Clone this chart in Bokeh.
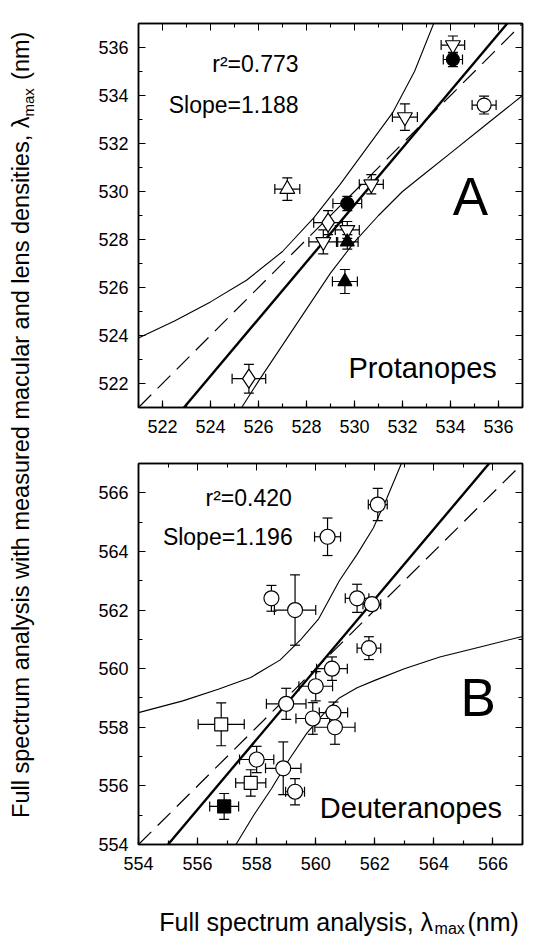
import numpy as np
from bokeh.plotting import figure
from bokeh.models import (ColumnDataSource, Whisker, TeeHead, Label, Range1d,
                          LinearAxis, SingleIntervalTicker, Slope)
from bokeh.layouts import row, column
from bokeh.embed import file_html
from bokeh.resources import INLINE

FONT = "Liberation Sans"

# ---------------- Panel A (Protanopes) data ----------------
a_tri_up_x = [527.2]
a_tri_up_y = [530.1]
a_tri_up_xerr = [0.52]
a_tri_up_yerr = [0.47]

a_tri_dn_x = [534.1, 532.1, 530.7, 529.7, 528.7]
a_tri_dn_y = [536.1, 533.1, 530.3, 528.4, 527.9]
a_tri_dn_xerr = [0.49, 0.52, 0.50, 0.50, 0.60]
a_tri_dn_yerr = [0.38, 0.55, 0.40, 0.35, 0.50]

a_dia_x = [528.9, 525.6]
a_dia_y = [528.7, 522.2]
a_dia_xerr = [0.60, 0.70]
a_dia_yerr = [0.50, 0.60]

a_fcirc_x = [534.1, 529.7]
a_fcirc_y = [535.5, 529.5]
a_fcirc_xerr = [0.40, 0.60]
a_fcirc_yerr = [0.30, 0.30]

a_ftri_x = [529.7, 529.6]
a_ftri_y = [527.9, 526.25]
a_ftri_xerr = [0.45, 0.52]
a_ftri_yerr = [0.30, 0.50]

a_ocirc_x = [535.4]
a_ocirc_y = [533.6]
a_ocirc_xerr = [0.50]
a_ocirc_yerr = [0.37]

a_slope = 1.188
a_intercept = -100.2
a_r2 = "0.773"

a_up_x = [521.0, 522.5, 524.0, 525.5, 527.0, 528.3, 529.4, 530.5, 531.6, 532.5, 533.3]
a_up_y = [523.9, 524.6, 525.4, 526.3, 527.5, 528.9, 530.3, 531.8, 533.3, 535.0, 537.0]
a_lo_x = [525.3, 526.0, 527.0, 528.0, 529.0, 530.0, 531.0, 532.0, 533.0, 534.0, 535.5, 537.0]
a_lo_y = [521.0, 522.1, 523.6, 525.1, 526.6, 527.9, 529.0, 530.0, 530.8, 531.6, 532.8, 534.0]

# ---------------- Panel B (Deuteranopes) data ----------------
b_ocirc_x = [562.1, 560.4, 558.5, 559.3, 561.4, 561.9, 561.8, 560.55, 560.0, 559.0,
             559.9, 560.6, 560.65, 558.0, 558.9, 559.3]
b_ocirc_y = [565.6, 564.5, 562.4, 562.0, 562.4, 562.2, 560.7, 560.0, 559.4, 558.8,
             558.3, 558.5, 558.0, 556.9, 556.6, 555.8]
b_ocirc_xerr = [0.32, 0.44, 0.10, 0.70, 0.40, 0.30, 0.40, 0.52, 0.57, 0.67,
                0.57, 0.48, 0.68, 0.58, 0.60, 0.32]
b_ocirc_yerr = [0.55, 0.64, 0.44, 1.20, 0.48, 0.20, 0.39, 0.40, 0.50, 0.53,
                0.54, 0.36, 0.58, 0.45, 0.90, 0.45]

b_osq_x = [556.8, 557.8]
b_osq_y = [558.1, 556.1]
b_osq_xerr = [0.78, 0.51]
b_osq_yerr = [0.73, 0.45]

b_fsq_x = [556.9]
b_fsq_y = [555.3]
b_fsq_xerr = [0.49]
b_fsq_yerr = [0.44]

b_slope = 1.196
b_intercept = -109.78
b_r2 = "0.420"

b_up_x = [554.0, 555.5, 556.7, 557.8, 558.8, 559.5, 560.1, 560.8, 561.4, 561.95, 562.4, 562.9]
b_up_y = [558.5, 558.9, 559.3, 559.7, 560.3, 561.0, 561.7, 563.0, 563.9, 564.8, 565.8, 567.0]
b_lo_x = [557.3, 557.9, 558.5, 559.1, 559.7, 560.3, 560.8, 561.4, 562.0, 563.0, 564.2, 565.6, 567.0]
b_lo_y = [554.0, 555.0, 555.9, 556.9, 557.8, 558.5, 559.0, 559.35, 559.6, 560.0, 560.4, 560.75, 561.1]

X_TITLE = ["Full spectrum analysis, \u03bb", "max", "(nm)"]
Y_TITLE = ["Full spectrum analysis with measured macular and lens densities, \u03bb", "max", "(nm)"]


def add_group(p, xs, ys, xe, ye, marker, size, filled):
    src = ColumnDataSource(dict(
        x=xs, y=ys,
        xl=[a - b for a, b in zip(xs, xe)], xu=[a + b for a, b in zip(xs, xe)],
        yl=[a - b for a, b in zip(ys, ye)], yu=[a + b for a, b in zip(ys, ye)]))
    for dim, base, lo, up in (("height", "x", "yl", "yu"), ("width", "y", "xl", "xu")):
        w = Whisker(source=src, base=base, lower=lo, upper=up, dimension=dim,
                    line_color="black", line_width=1.2, level="underlay",
                    upper_head=TeeHead(size=10, line_color="black", line_width=1.2),
                    lower_head=TeeHead(size=10, line_color="black", line_width=1.2))
        p.add_layout(w)
    p.scatter("x", "y", source=src, marker=marker, size=size,
              fill_color="black" if filled else "white",
              line_color="black", line_width=1.2)


def make_panel(xr, yr, w, h, top, bottom):
    p = figure(width=w, height=h, x_range=Range1d(*xr), y_range=Range1d(*yr),
               output_backend="svg", toolbar_location=None,
               min_border_left=90, min_border_right=11,
               min_border_top=top, min_border_bottom=bottom)
    p.xgrid.visible = False
    p.ygrid.visible = False
    p.outline_line_color = "black"
    p.outline_line_width = 1.5
    p.background_fill_color = "white"
    p.border_fill_color = "white"
    for ax in (p.xaxis[0], p.yaxis[0]):
        ax.ticker = SingleIntervalTicker(interval=2, num_minor_ticks=2)
        ax.major_tick_in = 7
        ax.major_tick_out = 0
        ax.minor_tick_in = 4
        ax.minor_tick_out = 0
        ax.axis_line_width = 1.5
        ax.major_tick_line_width = 1.2
        ax.minor_tick_line_width = 1.2
        ax.major_label_text_font = FONT
        ax.major_label_text_font_size = "18px"
        ax.major_label_text_color = "black"
    p.xaxis[0].major_label_standoff = 12
    p.yaxis[0].major_label_standoff = 10
    for loc in ("above", "right"):
        ax = LinearAxis(ticker=SingleIntervalTicker(interval=2, num_minor_ticks=2),
                        major_tick_in=7, major_tick_out=0, minor_tick_in=4, minor_tick_out=0,
                        major_label_text_font_size="1px", major_label_text_color=None,
                        major_label_standoff=0, axis_line_width=1.5)
        p.add_layout(ax, loc)
    return p


def add_lines(p, slope, intercept, ux, uy, lx, ly):
    p.line(ux, uy, line_color="black", line_width=1.1)
    p.line(lx, ly, line_color="black", line_width=1.1)
    p.add_layout(Slope(gradient=1.0, y_intercept=0.0, line_color="black",
                       line_width=1.2, line_dash="18 9", level="underlay"))
    p.add_layout(Slope(gradient=slope, y_intercept=intercept, line_color="black",
                       line_width=2.4, level="underlay"))


def txt(p, x, y, t, size, align="left"):
    p.add_layout(Label(x=x, y=y, text=t, text_font=FONT, text_font_size=size,
                       text_align=align, text_baseline="middle", text_color="black"))


# ---------------- Panel A ----------------
pa = make_panel((521, 537), (521, 537), 485, 447, 23, 40)
add_lines(pa, a_slope, a_intercept, a_up_x, a_up_y, a_lo_x, a_lo_y)
add_group(pa, a_tri_up_x, a_tri_up_y, a_tri_up_xerr, a_tri_up_yerr, "triangle", 15, False)
add_group(pa, a_tri_dn_x, a_tri_dn_y, a_tri_dn_xerr, a_tri_dn_yerr, "inverted_triangle", 15, False)
add_group(pa, a_dia_x, a_dia_y, a_dia_xerr, a_dia_yerr, "diamond", 19, False)
add_group(pa, a_ocirc_x, a_ocirc_y, a_ocirc_xerr, a_ocirc_yerr, "circle", 14, False)
add_group(pa, a_fcirc_x, a_fcirc_y, a_fcirc_xerr, a_fcirc_yerr, "circle", 13, True)
add_group(pa, a_ftri_x, a_ftri_y, a_ftri_xerr, a_ftri_yerr, "triangle", 14, True)
txt(pa, 527.67, 535.33, "r\u00b2=" + a_r2, "23px", "right")
txt(pa, 527.67, 533.6, "Slope=" + f"{a_slope:.3f}", "23px", "right")
txt(pa, 534.83, 529.79, "A", "53px", "center")
txt(pa, 529.75, 522.65, "Protanopes", "29px", "left")

# ---------------- Panel B ----------------
pb = make_panel((554, 567), (554, 567), 485, 437, 16, 40)
add_lines(pb, b_slope, b_intercept, b_up_x, b_up_y, b_lo_x, b_lo_y)
add_group(pb, b_ocirc_x, b_ocirc_y, b_ocirc_xerr, b_ocirc_yerr, "circle", 15, False)
add_group(pb, b_osq_x, b_osq_y, b_osq_xerr, b_osq_yerr, "square", 13, False)
add_group(pb, b_fsq_x, b_fsq_y, b_fsq_xerr, b_fsq_yerr, "square", 13, True)
txt(pb, 559.19, 565.83, "r\u00b2=" + b_r2, "23px", "right")
txt(pb, 559.22, 564.49, "Slope=" + f"{b_slope:.3f}", "23px", "right")
txt(pb, 565.5, 559.02, "B", "53px", "center")
txt(pb, 560.14, 555.23, "Deuteranopes", "29px", "left")


def blank_fig(w, h):
    f = figure(width=w, height=h, x_range=Range1d(0, w), y_range=Range1d(0, h),
               output_backend="svg", toolbar_location=None,
               x_axis_location=None, y_axis_location=None,
               min_border=0, min_border_left=0, min_border_right=0,
               min_border_top=0, min_border_bottom=0)
    f.xgrid.visible = False
    f.ygrid.visible = False
    f.outline_line_color = None
    return f


def lab(f, x, y, t, size, align, angle=0.0):
    f.add_layout(Label(x=x, y=y, text=t, text_font=FONT, text_font_size=f"{size}px",
                       text_align=align, text_baseline="middle", angle=angle,
                       text_color="black"))


# x-axis title (with subscript) under panel B  (figure spans page x 48..533, y 884..937)
XF, XS = 25, 16
xl = blank_fig(485, 53)
x_max = 372
x_nm = x_max + 2 + 1.889 * XS + 0.45 * XF
lab(xl, x_max, 16, X_TITLE[0], XF, "right")
lab(xl, x_max + 2, 9, X_TITLE[1], XS, "left")
lab(xl, x_nm, 16, X_TITLE[2], XF, "left")

# y-axis title (rotated, with subscript) left of both panels (figure spans page x 0..48, y 0..937)
YF, YS = 23.5, 15
yl = blank_fig(48, 937)
ya = 821
lab(yl, 20, ya, Y_TITLE[0], YF, "right", np.pi / 2)
lab(yl, 28, ya, Y_TITLE[1], YS, "left", np.pi / 2)
lab(yl, 20, ya + 1.889 * YS + 0.35 * YF, Y_TITLE[2], YF, "left", np.pi / 2)

layout = row(yl, column(pa, pb, xl))
open("out.html", "w").write(file_html(layout, INLINE))
